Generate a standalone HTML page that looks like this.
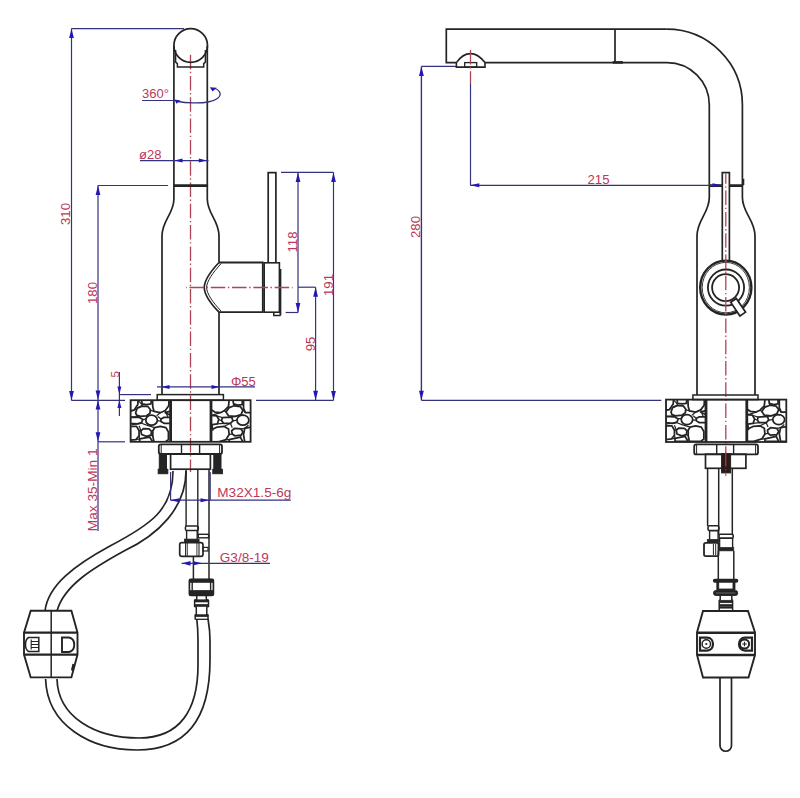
<!DOCTYPE html>
<html><head><meta charset="utf-8"><style>
html,body{margin:0;padding:0;background:#fff;}
body{width:800px;height:798px;overflow:hidden;}
svg{display:block;}
text{font-family:"Liberation Sans",sans-serif;}
</style></head><body>
<svg width="800" height="798" viewBox="0 0 800 798" font-family="Liberation Sans, sans-serif">
<rect width="800" height="798" fill="#ffffff"/>
<line x1="190.5" y1="51.9" x2="190.5" y2="472" stroke="#b04452" stroke-width="1.3" stroke-dasharray="14.5 2.6 1.4 2.8" stroke-dashoffset="18.5"/>
<circle cx="190.7" cy="45.5" r="16.8" stroke="#242424" stroke-width="1.7" fill="none"/>
<line x1="173.9" y1="46" x2="173.9" y2="186" stroke="#242424" stroke-width="1.7" />
<line x1="207.3" y1="46" x2="207.3" y2="186" stroke="#242424" stroke-width="1.7" />
<path d="M175.6,50 L175.6,62.2 L177.4,63.6 L177.4,66.9 L203.7,66.9 L203.7,63.6 L205.4,62.2 L205.4,50" stroke="#242424" stroke-width="1.5" fill="none" />
<line x1="173.9" y1="185.6" x2="207.3" y2="185.6" stroke="#242424" stroke-width="2.8" />
<path d="M173.9,185 L173.9,199 C173.9,214 162,220 162,236 L162,386" stroke="#242424" stroke-width="1.7" fill="none" />
<path d="M207.3,185 L207.3,199 C207.3,214 219,220 219,236 L219,262.5" stroke="#242424" stroke-width="1.7" fill="none" />
<line x1="219" y1="312" x2="219" y2="386" stroke="#242424" stroke-width="1.7" />
<path d="M219,262.5 L262.8,262.5 L262.8,312.2 L219,312.2" stroke="#242424" stroke-width="1.8" fill="none" />
<path d="M219,262.5 C210,272 204.5,280 204.2,287.5 C204.5,295 210,303 219,312.2" stroke="#242424" stroke-width="1.7" fill="none" />
<path d="M221.2,263.5 C212.5,273 207,281 206.5,287.5 C207,294 212.5,302 221.2,311.2" stroke="#242424" stroke-width="1.0" fill="none" />
<rect x="264.2" y="262.8" width="15.2" height="49.4" stroke="#242424" stroke-width="1.6" fill="none"/>
<line x1="280.4" y1="269" x2="280.4" y2="315.4" stroke="#242424" stroke-width="1.9" />
<path d="M273.8,312.2 L273.8,315.4 L280.6,315.4" stroke="#242424" stroke-width="1.5" fill="none" />
<path d="M268.2,262.8 L268.2,172.6 L275.9,172.6 L275.9,262.8" stroke="#242424" stroke-width="1.7" fill="none" />
<line x1="186" y1="287.5" x2="292.5" y2="287.5" stroke="#b04452" stroke-width="1.3" stroke-dasharray="14.5 2.6 1.4 2.8" stroke-dashoffset="17.85"/>
<rect x="157.2" y="394.6" width="66.2" height="5.6" stroke="#242424" stroke-width="1.5" fill="none"/>
<line x1="162" y1="386" x2="162" y2="394.6" stroke="#242424" stroke-width="1.7" />
<line x1="219" y1="386" x2="219" y2="394.6" stroke="#242424" stroke-width="1.7" />
<clipPath id="cla"><rect x="130.6" y="400.2" width="40.0" height="41.60000000000002"/></clipPath>
<g clip-path="url(#cla)" stroke="#242424" stroke-width="1.75" fill="none" stroke-linejoin="round">
<polygon points="135.61,412.68 137.17,408.30 142.17,406.11 147.80,406.43 150.30,409.55 149.99,413.30 146.55,415.80 140.30,416.43 136.55,415.18"/>
<polygon points="152.49,399.55 152.80,407.05 154.05,411.43 160.30,412.68 165.30,410.49 168.74,405.80 169.05,399.55"/>
<ellipse cx="151.55" cy="420.18" rx="5.75" ry="5.00"/>
<polygon points="152.80,430.80 154.67,427.68 160.30,426.43 165.92,427.68 168.42,432.05 168.42,439.55 165.30,442.05 154.05,442.05 152.80,436.43"/>
<polygon points="140.92,430.80 143.42,428.61 149.05,428.93 151.55,431.43 150.92,435.18 146.55,436.43 141.55,434.55"/>
<polygon points="130.30,417.05 139.05,417.36 142.80,419.55 141.55,422.68 137.17,423.93 130.30,423.30"/>
<polygon points="160.92,418.93 164.05,417.36 171.55,417.36 171.55,423.30 164.05,423.30 160.92,421.43"/>
<polygon points="130.30,399.55 138.11,399.55 137.80,404.55 134.05,410.18 130.30,410.80"/>
<polygon points="130.30,426.43 136.55,426.43 139.05,430.80 139.05,435.80 135.92,439.55 130.30,440.18"/>
<polygon points="141.55,399.55 151.55,399.55 150.92,403.93 146.55,404.55 142.17,403.93"/>
<polygon points="139.67,438.93 149.67,437.05 152.80,442.05 139.67,442.05"/>
<polygon points="165.30,412.68 171.55,410.80 171.55,415.80"/>
<line x1="130.61" y1="411.43" x2="135.92" y2="408.93" stroke-width="1.2"/>
<line x1="138.11" y1="400.49" x2="142.49" y2="405.18" stroke-width="1.2"/>
<line x1="142.49" y1="405.18" x2="137.17" y2="407.99" stroke-width="1.2"/>
<line x1="149.99" y1="410.18" x2="154.05" y2="411.43" stroke-width="1.2"/>
<line x1="146.55" y1="415.80" x2="146.55" y2="418.93" stroke-width="1.2"/>
<line x1="140.30" y1="416.43" x2="131.55" y2="417.05" stroke-width="1.2"/>
<line x1="142.80" y1="419.55" x2="146.55" y2="418.93" stroke-width="1.2"/>
<line x1="156.55" y1="415.80" x2="160.30" y2="412.68" stroke-width="1.2"/>
<line x1="157.80" y1="416.43" x2="161.55" y2="419.55" stroke-width="1.2"/>
<line x1="165.30" y1="410.80" x2="167.80" y2="417.05" stroke-width="1.2"/>
<line x1="157.17" y1="420.80" x2="160.92" y2="420.80" stroke-width="1.2"/>
<line x1="131.55" y1="424.55" x2="141.55" y2="423.30" stroke-width="1.2"/>
<line x1="141.55" y1="423.30" x2="146.55" y2="425.18" stroke-width="1.2"/>
<line x1="146.55" y1="425.18" x2="154.67" y2="427.68" stroke-width="1.2"/>
<line x1="139.05" y1="425.80" x2="140.92" y2="430.80" stroke-width="1.2"/>
<line x1="139.05" y1="430.80" x2="140.92" y2="430.80" stroke-width="1.2"/>
<line x1="151.55" y1="431.43" x2="152.80" y2="430.80" stroke-width="1.2"/>
<line x1="150.92" y1="435.18" x2="153.42" y2="436.43" stroke-width="1.2"/>
<line x1="135.92" y1="439.55" x2="139.67" y2="438.93" stroke-width="1.2"/>
<line x1="146.55" y1="436.43" x2="149.67" y2="437.05" stroke-width="1.2"/>
<line x1="139.67" y1="438.93" x2="139.05" y2="435.80" stroke-width="1.2"/>
</g>
<clipPath id="clb"><rect x="211.0" y="400.2" width="39.599999999999994" height="41.60000000000002"/></clipPath>
<g clip-path="url(#clb)" stroke="#242424" stroke-width="1.75" fill="none" stroke-linejoin="round">
<polygon points="209.15,399.55 229.15,399.55 228.53,406.43 224.15,410.80 220.40,412.68 214.78,412.05 209.15,408.30"/>
<polygon points="226.03,412.05 229.15,407.68 234.15,405.80 240.40,406.74 242.90,410.18 241.03,414.55 235.40,416.43 228.53,415.80"/>
<polygon points="232.90,399.55 242.28,399.55 242.28,404.55 237.90,405.18 233.53,403.93"/>
<polygon points="243.53,399.55 251.65,399.55 251.65,412.68 245.40,412.68 243.53,408.30"/>
<ellipse cx="242.90" cy="420.18" rx="5.94" ry="5.00"/>
<polygon points="209.15,415.18 216.65,415.80 218.84,419.55 217.28,423.93 209.15,425.18"/>
<polygon points="222.28,417.68 231.65,417.05 232.90,420.80 230.40,423.30 223.53,423.30 221.65,420.80"/>
<polygon points="209.15,430.80 217.28,427.05 224.15,426.43 228.53,428.93 229.15,434.55 226.03,439.55 217.90,442.05 209.15,442.05"/>
<polygon points="231.65,430.80 234.78,428.30 241.03,428.93 242.90,432.05 241.03,435.18 234.78,435.80 232.28,433.93"/>
<polygon points="244.78,428.30 251.65,427.05 251.65,442.05 244.78,442.05 243.53,434.55"/>
<polygon points="229.15,439.55 240.40,437.05 242.90,442.05 229.15,442.05"/>
<line x1="220.40" y1="412.68" x2="212.28" y2="415.18" stroke-width="1.2"/>
<line x1="224.15" y1="410.80" x2="226.03" y2="412.05" stroke-width="1.2"/>
<line x1="228.53" y1="406.43" x2="229.15" y2="407.68" stroke-width="1.2"/>
<line x1="233.53" y1="403.93" x2="234.15" y2="405.80" stroke-width="1.2"/>
<line x1="242.90" y1="410.18" x2="245.40" y2="412.68" stroke-width="1.2"/>
<line x1="241.03" y1="414.55" x2="244.15" y2="415.80" stroke-width="1.2"/>
<line x1="216.65" y1="415.80" x2="222.28" y2="417.68" stroke-width="1.2"/>
<line x1="218.84" y1="419.55" x2="221.65" y2="420.80" stroke-width="1.2"/>
<line x1="217.28" y1="423.93" x2="223.53" y2="423.30" stroke-width="1.2"/>
<line x1="231.65" y1="417.05" x2="235.40" y2="416.43" stroke-width="1.2"/>
<line x1="232.90" y1="420.80" x2="236.96" y2="420.18" stroke-width="1.2"/>
<line x1="230.40" y1="423.30" x2="232.28" y2="427.68" stroke-width="1.2"/>
<line x1="212.28" y1="425.18" x2="212.90" y2="430.80" stroke-width="1.2"/>
<line x1="224.15" y1="426.43" x2="230.40" y2="423.30" stroke-width="1.2"/>
<line x1="241.03" y1="428.93" x2="244.78" y2="428.30" stroke-width="1.2"/>
<line x1="242.90" y1="432.05" x2="243.53" y2="434.55" stroke-width="1.2"/>
<line x1="229.15" y1="434.55" x2="232.28" y2="433.93" stroke-width="1.2"/>
<line x1="226.03" y1="439.55" x2="229.15" y2="439.55" stroke-width="1.2"/>
<line x1="241.03" y1="435.18" x2="240.40" y2="437.05" stroke-width="1.2"/>
<line x1="248.53" y1="425.18" x2="244.78" y2="428.30" stroke-width="1.2"/>
</g>
<rect x="130.6" y="400.2" width="120.0" height="41.60000000000002" stroke="#242424" stroke-width="1.8" fill="none"/>
<line x1="170.6" y1="400.2" x2="170.6" y2="441.8" stroke="#242424" stroke-width="2.8" />
<line x1="211.0" y1="400.2" x2="211.0" y2="441.8" stroke="#242424" stroke-width="2.8" />
<rect x="158.8" y="444.4" width="63.2" height="9.6" rx="2" stroke="#242424" stroke-width="1.8" fill="none"/>
<line x1="161.2" y1="444.2" x2="161.2" y2="454" stroke="#242424" stroke-width="1.0" />
<line x1="219.6" y1="444.2" x2="219.6" y2="454" stroke="#242424" stroke-width="1.0" />
<line x1="181.5" y1="444.2" x2="181.5" y2="454" stroke="#242424" stroke-width="1.4" />
<line x1="199.6" y1="444.2" x2="199.6" y2="454" stroke="#242424" stroke-width="1.4" />
<rect x="159.3" y="454" width="7.2" height="16.5" stroke="#242424" stroke-width="1" fill="#242424"/>
<rect x="158.2" y="469.3" width="9.6" height="4.4" stroke="#242424" stroke-width="1" fill="#242424"/>
<rect x="213.8" y="454" width="7.2" height="16.5" stroke="#242424" stroke-width="1" fill="#242424"/>
<rect x="212.8" y="469.3" width="9.6" height="4.4" stroke="#242424" stroke-width="1" fill="#242424"/>
<rect x="170.6" y="454" width="39.8" height="15.2" stroke="#242424" stroke-width="1.7" fill="none"/>
<line x1="186.1" y1="470" x2="186.1" y2="526" stroke="#242424" stroke-width="1.4" />
<line x1="197.8" y1="470" x2="197.8" y2="534.5" stroke="#242424" stroke-width="1.4" />
<line x1="209.0" y1="470" x2="209.0" y2="580" stroke="#242424" stroke-width="1.5" />
<rect x="185.4" y="526" width="12.9" height="4.4" rx="1.5" stroke="#242424" stroke-width="1.5" fill="none"/>
<line x1="186.6" y1="530.4" x2="186.6" y2="539.5" stroke="#242424" stroke-width="1.4" />
<line x1="197.2" y1="530.4" x2="197.2" y2="539.5" stroke="#242424" stroke-width="1.4" />
<rect x="184.6" y="539.2" width="14.4" height="3.4" stroke="#242424" stroke-width="1" fill="#242424"/>
<rect x="198.3" y="534.3" width="10.3" height="3.5" stroke="#242424" stroke-width="1.4" fill="none"/>
<rect x="179.7" y="542.6" width="23.3" height="13.8" rx="2.2" stroke="#242424" stroke-width="1.7" fill="#fff"/>
<line x1="185.6" y1="542.6" x2="185.6" y2="556.4" stroke="#242424" stroke-width="1.1" />
<line x1="187.3" y1="542.6" x2="187.3" y2="556.4" stroke="#242424" stroke-width="0.9" />
<line x1="196.9" y1="542.6" x2="196.9" y2="556.4" stroke="#242424" stroke-width="0.9" />
<line x1="199.0" y1="542.6" x2="199.0" y2="556.4" stroke="#242424" stroke-width="1.1" />
<rect x="203" y="547.4" width="5.0" height="3.6" stroke="#242424" stroke-width="1.2" fill="none"/>
<line x1="193.4" y1="556.4" x2="193.4" y2="580" stroke="#242424" stroke-width="1.5" />
<rect x="189.4" y="579.3" width="24" height="16" rx="1.8" stroke="#242424" stroke-width="1.7" fill="#fff"/>
<rect x="189.4" y="579.3" width="24" height="3.0" stroke="#242424" stroke-width="0.8" fill="#242424"/>
<rect x="189.4" y="590.6" width="24" height="4.6" stroke="#242424" stroke-width="0.8" fill="#242424"/>
<line x1="192.2" y1="582" x2="192.2" y2="590.6" stroke="#242424" stroke-width="1.4" />
<line x1="210.6" y1="582" x2="210.6" y2="590.6" stroke="#242424" stroke-width="1.4" />
<path d="M196.7,595.5 L196.7,599.5 L194.6,600.5 L194.6,606.5 L196.3,607 L196.3,614.5 L195.2,615 L195.2,619.6" stroke="#242424" stroke-width="1.5" fill="none" />
<path d="M206.3,595.5 L206.3,599.5 L208.5,600.5 L208.5,606.5 L206.8,607 L206.8,614.5 L208,615 L208,619.6" stroke="#242424" stroke-width="1.5" fill="none" />
<rect x="194.6" y="599.8" width="13.9" height="2.2" stroke="#242424" stroke-width="0.6" fill="#242424"/>
<rect x="194.6" y="604.3" width="13.9" height="2.2" stroke="#242424" stroke-width="0.6" fill="#242424"/>
<rect x="195.2" y="614.7" width="12.8" height="2.0" stroke="#242424" stroke-width="0.6" fill="#242424"/>
<line x1="195.2" y1="619.3" x2="208" y2="619.3" stroke="#242424" stroke-width="1.3" />
<path d="M173,471 C173,510 150,525 110,546 C75,565 48,585 45,611" stroke="#242424" stroke-width="1.7" fill="none" />
<path d="M186,471 C186,508 158,535 124,551 C95,567 64,585 57,611" stroke="#242424" stroke-width="1.7" fill="none" />
<path d="M45.6,679 C47,725 90,750 137,750 C190,750 210,715 210,660 L210,640 C210,630 209,625 208,619" stroke="#242424" stroke-width="1.7" fill="none" />
<path d="M57,679 C58,717 95,738 139,738 C180,738 198,710 198,665 L198,640 C198,630 197.5,625 196.8,619" stroke="#242424" stroke-width="1.7" fill="none" />
<path d="M30.7,610.8 L71.4,610.8 L77.5,632.6 L77.5,654.6 L71.4,677.4 L30.7,677.4 L24,654.6 L24,632.6 Z" stroke="#242424" stroke-width="1.9" fill="#ffffff" />
<line x1="24" y1="632.6" x2="77.5" y2="632.6" stroke="#242424" stroke-width="2.3" />
<line x1="24" y1="654.6" x2="77.5" y2="654.6" stroke="#242424" stroke-width="2.3" />
<line x1="51.2" y1="610.8" x2="51.2" y2="677.4" stroke="#242424" stroke-width="1.5" />
<path d="M28.5,637.5 L38.8,637.5 L38.8,651.5 L28.5,651.5 C24.5,649 24.5,640 28.5,637.5 Z" stroke="#242424" stroke-width="1.5" fill="none" />
<path d="M31,641.5 L38.5,641.5 M31,644.5 L38.5,644.5 M31,647.5 L38.5,647.5 M31.2,639.5 L31.2,649.5" stroke="#242424" stroke-width="1.1" fill="none" />
<path d="M62,637.5 L69,637.5 C76,639 76,650.5 69,652 L62,652 Z" stroke="#242424" stroke-width="1.9" fill="none" />
<path d="M73.5,664 L72,670.5" stroke="#242424" stroke-width="2.2" fill="none" />
<line x1="71.5" y1="28.6" x2="71.5" y2="400.4" stroke="#34327a" stroke-width="1.2" />
<line x1="71.5" y1="28.6" x2="184" y2="28.6" stroke="#34327a" stroke-width="1.2" />
<polygon points="71.50,28.60 69.10,38.10 73.90,38.10" fill="#2418b4"/>
<polygon points="71.50,400.40 69.10,390.90 73.90,390.90" fill="#2418b4"/>
<text x="70" y="214" font-size="13.2" fill="#bc385a" text-anchor="middle" transform="rotate(-90 70 214)">310</text>
<line x1="98" y1="185.5" x2="98" y2="531" stroke="#34327a" stroke-width="1.2" />
<line x1="98" y1="185.5" x2="168" y2="185.5" stroke="#34327a" stroke-width="1.2" />
<polygon points="98.00,185.50 95.60,195.00 100.40,195.00" fill="#2418b4"/>
<polygon points="98.00,400.00 95.60,390.50 100.40,390.50" fill="#2418b4"/>
<polygon points="98.00,400.00 95.60,409.50 100.40,409.50" fill="#2418b4"/>
<polygon points="98.00,441.80 95.60,432.30 100.40,432.30" fill="#2418b4"/>
<text x="97.2" y="293" font-size="13.2" fill="#bc385a" text-anchor="middle" transform="rotate(-90 97.2 293)">180</text>
<line x1="71.5" y1="400.4" x2="125" y2="400.4" stroke="#34327a" stroke-width="1.2" />
<line x1="98" y1="441.8" x2="125" y2="441.8" stroke="#34327a" stroke-width="1.2" />
<line x1="119.4" y1="372" x2="119.4" y2="416" stroke="#34327a" stroke-width="1.2" />
<line x1="119.4" y1="394.6" x2="151" y2="394.6" stroke="#34327a" stroke-width="1.2" />
<polygon points="119.40,394.60 117.40,386.60 121.40,386.60" fill="#2418b4"/>
<polygon points="119.40,400.00 117.40,408.00 121.40,408.00" fill="#2418b4"/>
<text x="119.2" y="374.3" font-size="11.5" fill="#bc385a" text-anchor="middle" transform="rotate(-90 119.2 374.3)">5</text>
<text x="97.4" y="489.8" font-size="13.7" fill="#bc385a" text-anchor="middle" transform="rotate(-90 97.4 489.8)">Max 35-Min 1</text>
<line x1="140" y1="160.6" x2="208.5" y2="160.6" stroke="#34327a" stroke-width="1.2" />
<polygon points="174.50,160.60 182.50,158.60 182.50,162.60" fill="#2418b4"/>
<polygon points="206.80,160.60 198.80,158.60 198.80,162.60" fill="#2418b4"/>
<text x="139" y="159.2" font-size="13" fill="#bc385a" text-anchor="start">ø28</text>
<line x1="142" y1="100.5" x2="176" y2="100.5" stroke="#34327a" stroke-width="1.2" />
<path d="M178,101.5 C186,103 200,103.5 208,102 C216,100.5 221,97 220,93 C219.5,91 217.5,89.5 215,88.5" stroke="#34327a" stroke-width="1.3" fill="none" />
<polygon points="174.5,99.6 180.5,100.4 176.4,103.8" fill="#2418b4"/>
<polygon points="209.8,87.2 216.8,87.8 212.6,91.6" fill="#2418b4"/>
<text x="142" y="97.5" font-size="13" fill="#bc385a" text-anchor="start">360°</text>
<line x1="157" y1="386.9" x2="255" y2="386.9" stroke="#34327a" stroke-width="1.2" />
<polygon points="161.50,386.90 169.50,384.90 169.50,388.90" fill="#2418b4"/>
<polygon points="219.50,386.90 211.50,384.90 211.50,388.90" fill="#2418b4"/>
<text x="231" y="386.2" font-size="13" fill="#bc385a" text-anchor="start">Φ55</text>
<line x1="256" y1="400.4" x2="333.5" y2="400.4" stroke="#34327a" stroke-width="1.2" />
<line x1="281" y1="172.4" x2="333.5" y2="172.4" stroke="#34327a" stroke-width="1.2" />
<line x1="298" y1="172.4" x2="298" y2="312.5" stroke="#34327a" stroke-width="1.2" />
<line x1="285.6" y1="312.5" x2="298" y2="312.5" stroke="#34327a" stroke-width="1.2" />
<polygon points="298.00,172.40 295.60,181.90 300.40,181.90" fill="#2418b4"/>
<polygon points="298.00,312.50 295.60,303.00 300.40,303.00" fill="#2418b4"/>
<text x="296.8" y="242" font-size="13.2" fill="#bc385a" text-anchor="middle" transform="rotate(-90 296.8 242)">118</text>
<line x1="333.5" y1="172.4" x2="333.5" y2="400.4" stroke="#34327a" stroke-width="1.2" />
<polygon points="333.50,172.40 331.10,181.90 335.90,181.90" fill="#2418b4"/>
<polygon points="333.50,400.40 331.10,390.90 335.90,390.90" fill="#2418b4"/>
<text x="332.6" y="285" font-size="13.2" fill="#bc385a" text-anchor="middle" transform="rotate(-90 332.6 285)">191</text>
<line x1="298" y1="287.2" x2="315.6" y2="287.2" stroke="#34327a" stroke-width="1.2" />
<line x1="315.6" y1="287.2" x2="315.6" y2="400.2" stroke="#34327a" stroke-width="1.2" />
<polygon points="315.60,287.20 313.20,296.70 318.00,296.70" fill="#2418b4"/>
<polygon points="315.60,400.20 313.20,390.70 318.00,390.70" fill="#2418b4"/>
<text x="314.6" y="344" font-size="13.2" fill="#bc385a" text-anchor="middle" transform="rotate(-90 314.6 344)">95</text>
<line x1="170.6" y1="472" x2="170.6" y2="500.2" stroke="#34327a" stroke-width="1.2" />
<line x1="210.2" y1="472" x2="210.2" y2="500.2" stroke="#34327a" stroke-width="1.2" />
<line x1="170.6" y1="500.2" x2="290.8" y2="500.2" stroke="#34327a" stroke-width="1.2" />
<polygon points="170.20,500.20 179.20,498.20 179.20,502.20" fill="#2418b4"/>
<polygon points="209.50,500.20 200.50,498.20 200.50,502.20" fill="#2418b4"/>
<text x="217.3" y="496.9" font-size="13.6" fill="#bc385a" text-anchor="start">M32X1.5-6g</text>
<line x1="181.6" y1="563.3" x2="270" y2="563.3" stroke="#34327a" stroke-width="1.2" />
<polygon points="182.00,563.30 190.50,560.90 190.50,565.70" fill="#2418b4"/>
<polygon points="202.50,563.30 193.50,561.30 193.50,565.30" fill="#2418b4"/>
<text x="219.8" y="561.6" font-size="13.6" fill="#bc385a" text-anchor="start">G3/8-19</text>
<path d="M666.8,29.2 L446.3,29.2 L446.3,62.6 L456.4,62.6" stroke="#242424" stroke-width="1.7" fill="none" />
<path d="M485,62.6 L666.8,62.6 A42.3,42.3 0 0 1 709.3,104.9 L709.3,186" stroke="#242424" stroke-width="1.7" fill="none" />
<path d="M666.8,29.2 A75.6,75.6 0 0 1 742.4,104.8 L742.4,186" stroke="#242424" stroke-width="1.7" fill="none" />
<line x1="615" y1="29.2" x2="615" y2="62.6" stroke="#242424" stroke-width="1.7" />
<line x1="612.7" y1="62.4" x2="622.9" y2="62.4" stroke="#242424" stroke-width="2.6" />
<path d="M456.4,62.6 L456.4,67.1 L485,67.1 L485,62.6 C480,56 475,53.6 470.5,53.6 C466,53.6 461,56 456.4,62.6" stroke="#242424" stroke-width="1.6" fill="none" />
<rect x="464.7" y="62.6" width="12" height="4.5" stroke="#242424" stroke-width="1.3" fill="none"/>
<line x1="709.3" y1="185.6" x2="742.4" y2="185.6" stroke="#242424" stroke-width="2.8" />
<line x1="743.5" y1="178.8" x2="743.5" y2="185" stroke="#242424" stroke-width="1.6" />
<path d="M709.3,185 L709.3,197.5 C709.3,213 697,220 697,236 L697,395" stroke="#242424" stroke-width="1.7" fill="none" />
<path d="M742.4,185 L742.4,197.5 C742.4,213 755,220 755,236 L755,395" stroke="#242424" stroke-width="1.7" fill="none" />
<rect x="722.3" y="172.6" width="7.1" height="88.8" stroke="#242424" stroke-width="1.7" fill="#ffffff"/>
<ellipse cx="725.8" cy="287.6" rx="25.6" ry="27.0" stroke="#242424" stroke-width="2.4" fill="#ffffff"/>
<ellipse cx="725.8" cy="287.6" rx="23.6" ry="25.2" stroke="#242424" stroke-width="0.9" fill="none"/>
<circle cx="726" cy="287.6" r="18.1" stroke="#242424" stroke-width="1.8" fill="none"/>
<g transform="rotate(-34 738 307)"><rect x="734.6" y="299" width="6.8" height="16.5" stroke="#242424" stroke-width="1.7" fill="#ffffff"/></g>
<circle cx="725.6" cy="287.6" r="13.5" stroke="#242424" stroke-width="1.8" fill="#ffffff"/>
<line x1="725.8" y1="173.5" x2="725.8" y2="472" stroke="#b04452" stroke-width="1.3" stroke-dasharray="14.5 2.6 1.4 2.8" stroke-dashoffset="4.2"/>
<rect x="692.9" y="395" width="65.1" height="4.6" stroke="#242424" stroke-width="1.5" fill="none"/>
<clipPath id="cra"><rect x="666" y="399.6" width="40" height="42.39999999999998"/></clipPath>
<g clip-path="url(#cra)" stroke="#242424" stroke-width="1.75" fill="none" stroke-linejoin="round">
<polygon points="671.01,412.08 672.58,407.70 677.58,405.51 683.20,405.83 685.70,408.95 685.39,412.70 681.95,415.20 675.70,415.83 671.95,414.58"/>
<polygon points="687.89,398.95 688.20,406.45 689.45,410.83 695.70,412.08 700.70,409.89 704.14,405.20 704.45,398.95"/>
<ellipse cx="686.95" cy="419.58" rx="5.75" ry="5.00"/>
<polygon points="688.20,430.20 690.08,427.08 695.70,425.83 701.33,427.08 703.83,431.45 703.83,438.95 700.70,441.45 689.45,441.45 688.20,435.83"/>
<polygon points="676.33,430.20 678.83,428.01 684.45,428.33 686.95,430.83 686.33,434.58 681.95,435.83 676.95,433.95"/>
<polygon points="665.70,416.45 674.45,416.76 678.20,418.95 676.95,422.08 672.58,423.33 665.70,422.70"/>
<polygon points="696.33,418.33 699.45,416.76 706.95,416.76 706.95,422.70 699.45,422.70 696.33,420.83"/>
<polygon points="665.70,398.95 673.51,398.95 673.20,403.95 669.45,409.58 665.70,410.20"/>
<polygon points="665.70,425.83 671.95,425.83 674.45,430.20 674.45,435.20 671.33,438.95 665.70,439.58"/>
<polygon points="676.95,398.95 686.95,398.95 686.33,403.33 681.95,403.95 677.58,403.33"/>
<polygon points="675.08,438.33 685.08,436.45 688.20,441.45 675.08,441.45"/>
<polygon points="700.70,412.08 706.95,410.20 706.95,415.20"/>
<line x1="666.01" y1="410.83" x2="671.33" y2="408.33" stroke-width="1.2"/>
<line x1="673.51" y1="399.89" x2="677.89" y2="404.58" stroke-width="1.2"/>
<line x1="677.89" y1="404.58" x2="672.58" y2="407.39" stroke-width="1.2"/>
<line x1="685.39" y1="409.58" x2="689.45" y2="410.83" stroke-width="1.2"/>
<line x1="681.95" y1="415.20" x2="681.95" y2="418.33" stroke-width="1.2"/>
<line x1="675.70" y1="415.83" x2="666.95" y2="416.45" stroke-width="1.2"/>
<line x1="678.20" y1="418.95" x2="681.95" y2="418.33" stroke-width="1.2"/>
<line x1="691.95" y1="415.20" x2="695.70" y2="412.08" stroke-width="1.2"/>
<line x1="693.20" y1="415.83" x2="696.95" y2="418.95" stroke-width="1.2"/>
<line x1="700.70" y1="410.20" x2="703.20" y2="416.45" stroke-width="1.2"/>
<line x1="692.58" y1="420.20" x2="696.33" y2="420.20" stroke-width="1.2"/>
<line x1="666.95" y1="423.95" x2="676.95" y2="422.70" stroke-width="1.2"/>
<line x1="676.95" y1="422.70" x2="681.95" y2="424.58" stroke-width="1.2"/>
<line x1="681.95" y1="424.58" x2="690.08" y2="427.08" stroke-width="1.2"/>
<line x1="674.45" y1="425.20" x2="676.33" y2="430.20" stroke-width="1.2"/>
<line x1="674.45" y1="430.20" x2="676.33" y2="430.20" stroke-width="1.2"/>
<line x1="686.95" y1="430.83" x2="688.20" y2="430.20" stroke-width="1.2"/>
<line x1="686.33" y1="434.58" x2="688.83" y2="435.83" stroke-width="1.2"/>
<line x1="671.33" y1="438.95" x2="675.08" y2="438.33" stroke-width="1.2"/>
<line x1="681.95" y1="435.83" x2="685.08" y2="436.45" stroke-width="1.2"/>
<line x1="675.08" y1="438.33" x2="674.45" y2="435.20" stroke-width="1.2"/>
</g>
<clipPath id="crb"><rect x="746.8" y="399.6" width="39.5" height="42.39999999999998"/></clipPath>
<g clip-path="url(#crb)" stroke="#242424" stroke-width="1.75" fill="none" stroke-linejoin="round">
<polygon points="744.95,398.95 764.95,398.95 764.32,405.83 759.95,410.20 756.20,412.08 750.57,411.45 744.95,407.70"/>
<polygon points="761.82,411.45 764.95,407.08 769.95,405.20 776.20,406.14 778.70,409.58 776.82,413.95 771.20,415.83 764.32,415.20"/>
<polygon points="768.70,398.95 778.07,398.95 778.07,403.95 773.70,404.58 769.32,403.33"/>
<polygon points="779.32,398.95 787.45,398.95 787.45,412.08 781.20,412.08 779.32,407.70"/>
<ellipse cx="778.70" cy="419.58" rx="5.94" ry="5.00"/>
<polygon points="744.95,414.58 752.45,415.20 754.64,418.95 753.07,423.33 744.95,424.58"/>
<polygon points="758.07,417.08 767.45,416.45 768.70,420.20 766.20,422.70 759.32,422.70 757.45,420.20"/>
<polygon points="744.95,430.20 753.07,426.45 759.95,425.83 764.32,428.33 764.95,433.95 761.82,438.95 753.70,441.45 744.95,441.45"/>
<polygon points="767.45,430.20 770.57,427.70 776.82,428.33 778.70,431.45 776.82,434.58 770.57,435.20 768.07,433.33"/>
<polygon points="780.57,427.70 787.45,426.45 787.45,441.45 780.57,441.45 779.32,433.95"/>
<polygon points="764.95,438.95 776.20,436.45 778.70,441.45 764.95,441.45"/>
<line x1="756.20" y1="412.08" x2="748.07" y2="414.58" stroke-width="1.2"/>
<line x1="759.95" y1="410.20" x2="761.82" y2="411.45" stroke-width="1.2"/>
<line x1="764.32" y1="405.83" x2="764.95" y2="407.08" stroke-width="1.2"/>
<line x1="769.32" y1="403.33" x2="769.95" y2="405.20" stroke-width="1.2"/>
<line x1="778.70" y1="409.58" x2="781.20" y2="412.08" stroke-width="1.2"/>
<line x1="776.82" y1="413.95" x2="779.95" y2="415.20" stroke-width="1.2"/>
<line x1="752.45" y1="415.20" x2="758.07" y2="417.08" stroke-width="1.2"/>
<line x1="754.64" y1="418.95" x2="757.45" y2="420.20" stroke-width="1.2"/>
<line x1="753.07" y1="423.33" x2="759.32" y2="422.70" stroke-width="1.2"/>
<line x1="767.45" y1="416.45" x2="771.20" y2="415.83" stroke-width="1.2"/>
<line x1="768.70" y1="420.20" x2="772.76" y2="419.58" stroke-width="1.2"/>
<line x1="766.20" y1="422.70" x2="768.07" y2="427.08" stroke-width="1.2"/>
<line x1="748.07" y1="424.58" x2="748.70" y2="430.20" stroke-width="1.2"/>
<line x1="759.95" y1="425.83" x2="766.20" y2="422.70" stroke-width="1.2"/>
<line x1="776.82" y1="428.33" x2="780.57" y2="427.70" stroke-width="1.2"/>
<line x1="778.70" y1="431.45" x2="779.32" y2="433.95" stroke-width="1.2"/>
<line x1="764.95" y1="433.95" x2="768.07" y2="433.33" stroke-width="1.2"/>
<line x1="761.82" y1="438.95" x2="764.95" y2="438.95" stroke-width="1.2"/>
<line x1="776.82" y1="434.58" x2="776.20" y2="436.45" stroke-width="1.2"/>
<line x1="784.32" y1="424.58" x2="780.57" y2="427.70" stroke-width="1.2"/>
</g>
<rect x="666" y="399.6" width="120.29999999999995" height="42.39999999999998" stroke="#242424" stroke-width="1.8" fill="none"/>
<line x1="706" y1="399.6" x2="706" y2="442" stroke="#242424" stroke-width="2.8" />
<line x1="746.8" y1="399.6" x2="746.8" y2="442" stroke="#242424" stroke-width="2.8" />
<rect x="694.2" y="444.4" width="63.8" height="10" rx="2" stroke="#242424" stroke-width="1.8" fill="none"/>
<line x1="696.6" y1="444.2" x2="696.6" y2="454.2" stroke="#242424" stroke-width="1.0" />
<line x1="755.6" y1="444.2" x2="755.6" y2="454.2" stroke="#242424" stroke-width="1.0" />
<line x1="716.7" y1="444.2" x2="716.7" y2="454.2" stroke="#242424" stroke-width="1.4" />
<line x1="733.6" y1="444.2" x2="733.6" y2="454.2" stroke="#242424" stroke-width="1.4" />
<rect x="705.5" y="454.2" width="40.4" height="14.1" stroke="#242424" stroke-width="1.7" fill="none"/>
<rect x="721.6" y="453.5" width="9.0" height="19.4" stroke="#242424" stroke-width="1" fill="#2a1a1a"/>
<line x1="725.8" y1="452" x2="725.8" y2="476" stroke="#d04040" stroke-width="1.0" stroke-dasharray="14.5 2.6 1.4 2.8" stroke-dashoffset="0"/>
<line x1="707.6" y1="468.3" x2="707.6" y2="526" stroke="#242424" stroke-width="1.5" />
<line x1="718.7" y1="468.3" x2="718.7" y2="534.3" stroke="#242424" stroke-width="1.5" />
<line x1="732.3" y1="468.3" x2="732.3" y2="534.3" stroke="#242424" stroke-width="1.5" />
<rect x="708" y="525.8" width="10.9" height="4.8" rx="1.6" stroke="#242424" stroke-width="1.6" fill="none"/>
<line x1="709.6" y1="530.6" x2="709.6" y2="539.5" stroke="#242424" stroke-width="1.4" />
<line x1="718.1" y1="530.6" x2="718.1" y2="539.5" stroke="#242424" stroke-width="1.4" />
<rect x="707.2" y="539.3" width="11.8" height="3.0" stroke="#242424" stroke-width="0.6" fill="#242424"/>
<rect x="704" y="542.9" width="14.5" height="13.2" rx="1.8" stroke="#242424" stroke-width="1.8" fill="#fff"/>
<line x1="713.4" y1="544" x2="713.4" y2="555" stroke="#242424" stroke-width="1.0" />
<line x1="715.7" y1="544" x2="715.7" y2="555" stroke="#242424" stroke-width="1.0" />
<rect x="719" y="534.2" width="14.2" height="3.9" rx="1.4" stroke="#242424" stroke-width="1.6" fill="none"/>
<line x1="719.6" y1="538" x2="719.6" y2="547.5" stroke="#242424" stroke-width="1.4" />
<line x1="732.6" y1="538" x2="732.6" y2="547.5" stroke="#242424" stroke-width="1.4" />
<rect x="718.2" y="547.3" width="15.6" height="3.6" stroke="#242424" stroke-width="0.6" fill="#242424"/>
<line x1="718.3" y1="551" x2="718.3" y2="579.5" stroke="#242424" stroke-width="1.5" />
<line x1="733.8" y1="551" x2="733.8" y2="579.5" stroke="#242424" stroke-width="1.5" />
<rect x="713.6" y="579.4" width="24" height="2.6" rx="1.2" stroke="#242424" stroke-width="1.4" fill="#242424"/>
<rect x="716.7" y="582" width="2.2" height="8.2" stroke="#242424" stroke-width="0.5" fill="#242424"/>
<rect x="732.9" y="582" width="2.2" height="8.2" stroke="#242424" stroke-width="0.5" fill="#242424"/>
<line x1="718.5" y1="589.5" x2="733.5" y2="589.5" stroke="#242424" stroke-width="1.8" />
<rect x="713.6" y="590.6" width="24" height="4.8" rx="2" stroke="#242424" stroke-width="1.0" fill="#242424"/>
<line x1="716" y1="593" x2="735.5" y2="593" stroke="#777" stroke-width="0.8" />
<path d="M720.2,595.5 L720.2,599.5 L719.2,600.8 L719.2,610.5 M731.8,595.5 L731.8,599.5 L732.6,600.8 L732.6,610.5" stroke="#242424" stroke-width="1.5" fill="none" />
<rect x="719.5" y="600.2" width="13" height="2.6" stroke="#242424" stroke-width="0.5" fill="#242424"/>
<rect x="719.5" y="604.4" width="13" height="1.6" stroke="#242424" stroke-width="0.5" fill="#242424"/>
<rect x="719.5" y="606.4" width="13" height="1.8" stroke="#242424" stroke-width="0.5" fill="#242424"/>
<path d="M703,611 L748,611 L755,632.5 L755,655 L748.5,677.5 L703,677.5 L697,655 L697,632.5 Z" stroke="#242424" stroke-width="1.9" fill="#ffffff" />
<line x1="697" y1="632.8" x2="755" y2="632.8" stroke="#242424" stroke-width="2.4" />
<line x1="697" y1="655" x2="755" y2="655" stroke="#242424" stroke-width="2.4" />
<path d="M700,637.6 L707,637.6 C715,637.6 715,650.6 707,650.6 L700,650.6 Z" stroke="#242424" stroke-width="2.2" fill="none" />
<circle cx="706.3" cy="644" r="4.2" stroke="#242424" stroke-width="1.4" fill="none"/>
<circle cx="706.3" cy="644" r="1.1" fill="#242424"/>
<path d="M752,637.6 L745,637.6 C737,637.6 737,650.6 745,650.6 L752,650.6 Z" stroke="#242424" stroke-width="2.2" fill="none" />
<circle cx="744.5" cy="644" r="4.6" stroke="#242424" stroke-width="2.0" fill="none"/>
<path d="M742.2,644 L746.8,644 M744.5,641.7 L744.5,646.3" stroke="#242424" stroke-width="1.2" fill="none" />
<path d="M720,677.5 L720,745.5 A5.75,5.75 0 0 0 731.5,745.5 L731.5,677.5" stroke="#242424" stroke-width="1.7" fill="none" />
<line x1="421.4" y1="66.4" x2="421.4" y2="400.3" stroke="#34327a" stroke-width="1.4" />
<line x1="421.4" y1="66.4" x2="456" y2="66.4" stroke="#34327a" stroke-width="1.2" />
<polygon points="421.40,66.40 419.00,75.90 423.80,75.90" fill="#2418b4"/>
<polygon points="421.40,400.30 419.00,390.80 423.80,390.80" fill="#2418b4"/>
<line x1="421.4" y1="400.3" x2="661.3" y2="400.3" stroke="#34327a" stroke-width="1.2" />
<text x="420.2" y="227" font-size="13.2" fill="#bc385a" text-anchor="middle" transform="rotate(-90 420.2 227)">280</text>
<line x1="470.5" y1="50" x2="470.5" y2="84" stroke="#b04452" stroke-width="1.3" stroke-dasharray="14.5 2.6 1.4 2.8" stroke-dashoffset="0"/>
<line x1="470.5" y1="84" x2="470.5" y2="185.3" stroke="#34327a" stroke-width="1.2" />
<line x1="470.5" y1="185.3" x2="722" y2="185.3" stroke="#34327a" stroke-width="1.2" />
<polygon points="469.80,185.30 479.30,183.30 479.30,187.30" fill="#2418b4"/>
<polygon points="722.00,185.30 712.50,183.30 712.50,187.30" fill="#2418b4"/>
<text x="598.5" y="184.2" font-size="13.2" fill="#bc385a" text-anchor="middle">215</text>
</svg>
</body></html>
